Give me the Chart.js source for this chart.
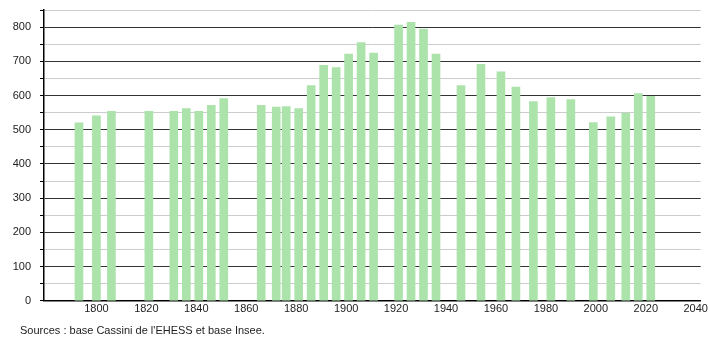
<!DOCTYPE html>
<html>
<head>
<meta charset="utf-8">
<script src="https://cdn.jsdelivr.net/npm/chart.js@4/dist/chart.umd.min.js"></script>
<style>
	body { margin: 0; background: #fff; }
	#wrap { position: relative; width: 710px; height: 340px; }
	#source { position: absolute; left: 20px; top: 324px; font: 11px "Liberation Sans", Arial, sans-serif; color: #222; }
</style>
</head>
<body>
<div id="wrap">
	<canvas id="popChart" width="710" height="340"></canvas>
	<div id="source">Sources : base Cassini de l'EHESS et base Insee.</div>
</div>
<script>
var years = [1793, 1800, 1806, 1821, 1831, 1836, 1841, 1846, 1851, 1866,
	1872, 1876, 1881, 1886, 1891, 1896, 1901, 1906, 1911, 1921,
	1926, 1931, 1936, 1946, 1954, 1962, 1968, 1975, 1982, 1990,
	1999, 2006, 2012, 2017, 2022];
var population = [520, 541, 554, 554, 554, 562, 554, 571, 591, 571,
	566, 568, 562, 629, 688, 682, 721, 755, 724, 806,
	814, 794, 721, 629, 691, 669, 625, 582, 594, 588,
	521, 538, 549, 606, 598];
var xTicks = [1800, 1820, 1840, 1860, 1880, 1900, 1920, 1940, 1960, 1980, 2000, 2020, 2040];

var points = [];
for (var i = 0; i < years.length; i++) {
	points.push({ x: years[i], y: population[i] });
}

var tickFont = { family: "'Liberation Sans', Arial, sans-serif", size: 11 };

const ctx = document.getElementById('popChart').getContext('2d');
var chart = new Chart(ctx, {
	type: 'bar',
	data: {
		datasets: [{
			data: points,
			backgroundColor: '#abe3ab',
			barThickness: 8
		}]
	},
	options: {
		responsive: false,
		animation: false,
		layout: { padding: { left: 0, right: 9, top: 10, bottom: 22 } },
		plugins: { legend: { display: false }, tooltip: { enabled: false } },
		scales: {
			x: {
				type: 'linear',
				offset: false,
				min: 1779,
				max: 2042,
				afterBuildTicks: function(scale) {
					scale.ticks = xTicks.map(v => ({ value: v }));
				},
				ticks: {
					color: '#222', font: tickFont, padding: 2, maxRotation: 0, autoSkip: false,
					callback: function(v) { return String(v); }
				},
				grid: { color: 'rgba(0,0,0,0)', drawTicks: false, offset: false },
				border: { color: '#000', width: 1.5 }
			},
			y: {
				min: 0,
				max: 850,
				ticks: {
					stepSize: 50,
					color: '#222',
					font: tickFont,
					padding: 9,
					callback: function(v) { return v % 100 == 0 ? v : ''; }
				},
				grid: {
					color: function(c) { return c.tick && c.tick.value % 100 == 0 ? '#333' : '#cccccc'; },
					tickColor: '#000',
					tickLength: 4,
					lineWidth: 1
				},
				border: { color: '#000', width: 1.5 },
				afterFit: function(scale) {
					scale.width = 44;
					scale.paddingTop = 0;
					scale.paddingBottom = 0;
				}
			}
		}
	}
});
</script>
</body>
</html>
